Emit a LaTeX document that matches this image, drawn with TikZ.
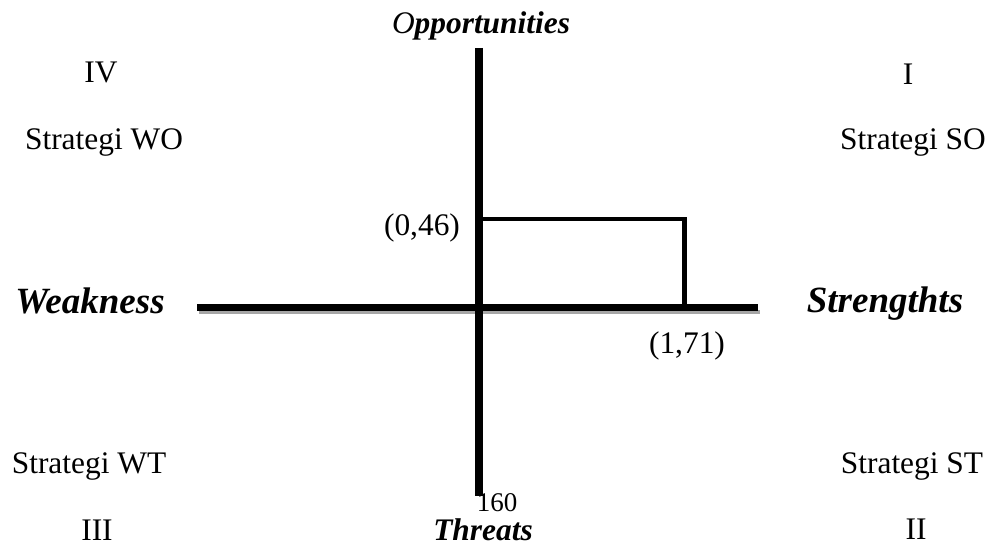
\documentclass[tikz,border=0pt]{standalone}
\usepackage{fontspec}
\setmainfont{Liberation Serif}
\begin{document}
\begin{tikzpicture}[x=1pt,y=-1pt,
  lbl/.style={inner sep=0pt, font=\fontsize{31.4}{36}\selectfont},
  axlbl/.style={inner sep=0pt, font=\fontsize{31.4}{36}\selectfont\bfseries\itshape},
  biglbl/.style={inner sep=0pt, font=\fontsize{37}{40}\selectfont\bfseries\itshape},
  axis/.style={line width=7.5pt, black},
  shadowline/.style={line width=4pt, gray!70},
  boxline/.style={line width=4.5pt, black}]
\useasboundingbox (0,0) rectangle (989,548);
% axes end points
\coordinate (vtop) at (479,48);
\coordinate (vbot) at (479,496);
\coordinate (hl) at (197,307.5);
\coordinate (hr) at (758,307.5);
\coordinate (shl) at (199,312.5);
\coordinate (shr) at (760,312.5);
\coordinate (ra) at (479,219);
\coordinate (rb) at (684.5,219);
\coordinate (rc) at (684.5,307.5);
% shadow of horizontal axis
\draw[shadowline] (shl) -- (shr);
\draw[axis] (hl) -- (hr);
\draw[axis] (vtop) -- (vbot);
\draw[boxline] (ra) -- (rb) -- (rc);
% labels
\node[axlbl] (opp) at (481,26) {{\mdseries O}pportunities};
\node[biglbl] (weak) at (90,301) {Weakness};
\node[biglbl] (str) at (885,304) {Strengthts};
\node[axlbl] (thr) at (483,530) {Threats};
\node[lbl] (q4) at (101,72) {IV};
\node[lbl] (q1) at (908,74) {I};
\node[lbl] (q3) at (97,530) {III};
\node[lbl] (q2) at (916,529) {II};
\node[lbl] (swo) at (104,142) {Strategi WO};
\node[lbl] (sso) at (913,142) {Strategi SO};
\node[lbl] (swt) at (89,466) {Strategi WT};
\node[lbl] (sst) at (912,466) {Strategi ST};
\node[lbl] (p1) at (422,228) {(0,46)};
\node[lbl] (p2) at (687,346) {(1,71)};
\node[inner sep=0pt, font=\fontsize{27}{30}\selectfont] (n160) at (497,503) {160};
\end{tikzpicture}
\end{document}
